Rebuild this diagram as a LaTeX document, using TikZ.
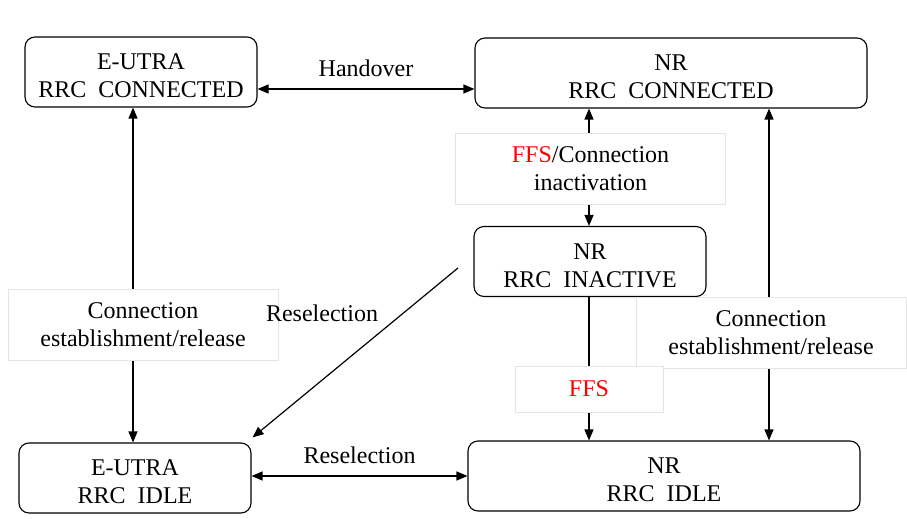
\documentclass[tikz,border=0pt]{standalone}
\usepackage{fontspec}
\setmainfont{Liberation Serif}
\usepackage{tikz}
\usetikzlibrary{arrows.meta,positioning,calc}
\newcommand{\stateText}[2]{\raisebox{-4pt}[\height][\depth]{#1}\\\raisebox{-4pt}[\height][\depth]{#2}}

\begin{document}
\begin{tikzpicture}[x=1pt, y=-1pt, >={Triangle[length=11pt,width=9pt]},
  every node/.style={font=\fontsize{24}{28}\selectfont, align=center},
  stateBox/.style={draw, rounded corners=10pt, line width=1.1pt, minimum height=70pt, inner sep=0pt},
  lblBox/.style={draw=black!10, fill=white, minimum width=270pt, minimum height=71pt, inner sep=0pt},
  conn/.style={line width=1.2pt}]
\useasboundingbox (0,0) rectangle (907,519);
% RRC states
\node[stateBox, minimum width=232pt] (eutraConn) at (141,72) {\stateText{E-UTRA}{RRC\ \ CONNECTED}};
\node[stateBox, minimum width=392pt] (nrConn) at (671,73) {\stateText{NR}{RRC\ \ CONNECTED}};
\node[stateBox, minimum width=232pt] (nrInact) at (590,261.5) {\stateText{NR}{RRC\ \ INACTIVE}};
\node[stateBox, minimum width=232pt] (eutraIdle) at (135,478) {\stateText{E-UTRA}{RRC\ \ IDLE}};
\node[stateBox, minimum width=392pt] (nrIdle) at (664,476) {\stateText{NR}{RRC\ \ IDLE}};
\coordinate (reselStart) at (458,268);
% transitions
\draw[conn,<->] (eutraConn.east |- 0,89) -- (nrConn.west |- 0,89) node[midway, above=8pt] {Handover};
\draw[conn,<->] (eutraIdle.east |- 0,476) -- (nrIdle.west |- 0,476) node[midway, above=8pt] {Reselection};
\draw[conn,<->] (eutraConn.south -| 133,0) -- (eutraIdle.north -| 133,0);
\draw[conn,->] (reselStart) -- ([shift={(1,-5)}]eutraIdle.north east);
\draw[conn,<->] (nrConn.south -| 589,0) -- (nrInact.north -| 589,0);
\draw[conn,->] (nrInact.south -| 589,0) -- (nrIdle.north -| 589,0);
\draw[conn,<->] (nrConn.south -| 769,0) -- (nrIdle.north -| 769,0);
% labels on the lines
\node[lblBox] (inactLbl) at (590.5,168.5) {\textcolor{red}{FFS}/Connection\\inactivation};
\node[lblBox] (eutraLbl) at (143,324.5) {Connection\\establishment/release};
\node[lblBox] (nrLbl) at (771,332.5) {Connection\\establishment/release};
\node[lblBox, minimum width=148pt, minimum height=46pt] (ffsLbl) at (589,389) {\textcolor{red}{FFS}};
\node (reselLbl) at (322,313) {Reselection};
\end{tikzpicture}
\end{document}
